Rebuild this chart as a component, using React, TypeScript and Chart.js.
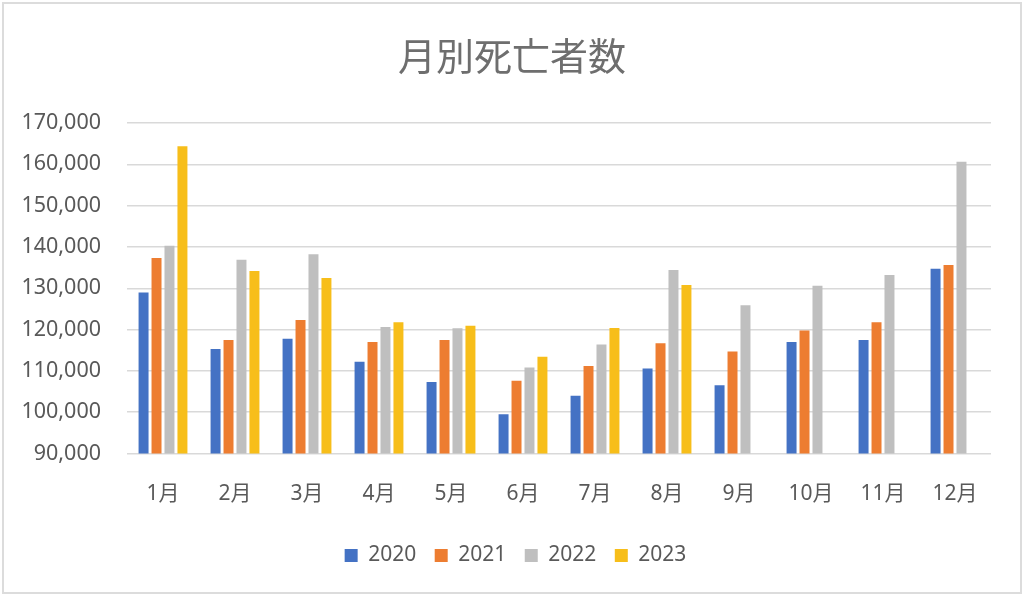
import { useEffect, useRef } from 'react';
import { Chart, registerables } from 'chart.js';

Chart.register(...registerables);

const months = ['1月', '2月', '3月', '4月', '5月', '6月', '7月', '8月', '9月', '10月', '11月', '12月'];
const deaths2020 = [129000, 115300, 117800, 112200, 107300, 99500, 104000, 110600, 106500, 117000, 117500, 134700];
const deaths2021 = [137300, 117500, 122300, 117000, 117500, 107600, 111200, 116700, 114700, 119800, 121800, 135600];
const deaths2022 = [140300, 136900, 138200, 120600, 120300, 110800, 116400, 134400, 125900, 130600, 133200, 160600];
const deaths2023 = [164400, 134200, 132500, 121800, 120900, 113400, 120400, 130800, null, null, null, null];

const FONT = "'Noto Sans', 'Noto Sans CJK JP', sans-serif";
const TEXT = '#595959';

// title and legend are centred on the whole picture, not on the padded box
const centreBoxes = {
  id: 'centreBoxes',
  afterLayout(chart: any) {
    const title = chart.titleBlock;
    if (title) { title.left += 16.5; title.right += 16.5; }
    const legend = chart.legend;
    if (legend) { legend.left += 20; legend.right += 20; }
  },
};

export default function App() {
  const chartRef = useRef<HTMLCanvasElement>(null);

  useEffect(() => {
    if (!chartRef.current) return;

    const chart = new Chart(chartRef.current, {
      type: 'bar',
      data: {
        labels: months,
        datasets: [
          { label: '2020', data: deaths2020, backgroundColor: '#4472C4' },
          { label: '2021', data: deaths2021, backgroundColor: '#ED7D31' },
          { label: '2022', data: deaths2022, backgroundColor: '#BFBFBF' },
          { label: '2023', data: deaths2023, backgroundColor: '#F7BE1A' },
        ],
      },
      options: {
        animation: false,
        responsive: true,
        maintainAspectRatio: false,
        layout: { padding: { left: 0, right: 33, top: 0, bottom: 20 } },
        datasets: {
          bar: { categoryPercentage: 0.72, barPercentage: 0.77 },
        },
        scales: {
          x: {
            grid: { display: false },
            border: { display: false },
            ticks: { color: TEXT, font: { family: FONT, size: 21 }, padding: 19.5 },
            afterFit: (scale) => { scale.height = 73; },
          },
          y: {
            min: 90000,
            max: 170000,
            grid: { color: '#d9d9d9', lineWidth: 1.5, drawTicks: false },
            border: { display: false },
            ticks: {
              stepSize: 10000,
              color: TEXT,
              padding: 26,
              font: { family: FONT, size: 21.5 },
              callback: (v) => Number(v).toLocaleString('en-US'),
            },
            afterFit: (scale) => { scale.width = 127; },
          },
        },
        plugins: {
          title: {
            display: true,
            text: '月別死亡者数',
            color: '#6e6e6e',
            font: { family: FONT, size: 38, weight: 'normal' },
            padding: { top: 36, bottom: 41.4 },
          },
          legend: {
            position: 'bottom',
            labels: {
              boxWidth: 13,
              boxHeight: 13,
              padding: 18.5,
              color: TEXT,
              font: { family: FONT, size: 21 },
            },
          },
          tooltip: { enabled: false },
        },
      },
      plugins: [centreBoxes],
    });

    return () => {
      chart.destroy();
    };
  }, []);

  return (
    <div style={{ position: 'absolute', left: 0, top: 0, width: 1024, height: 596, background: '#fff' }}>
      <div
        style={{
          position: 'absolute',
          left: 2,
          top: 2,
          width: 1016,
          height: 588,
          border: '2px solid #dcdcdc',
          pointerEvents: 'none',
        }}
      />
      <canvas ref={chartRef} />
    </div>
  );
}
